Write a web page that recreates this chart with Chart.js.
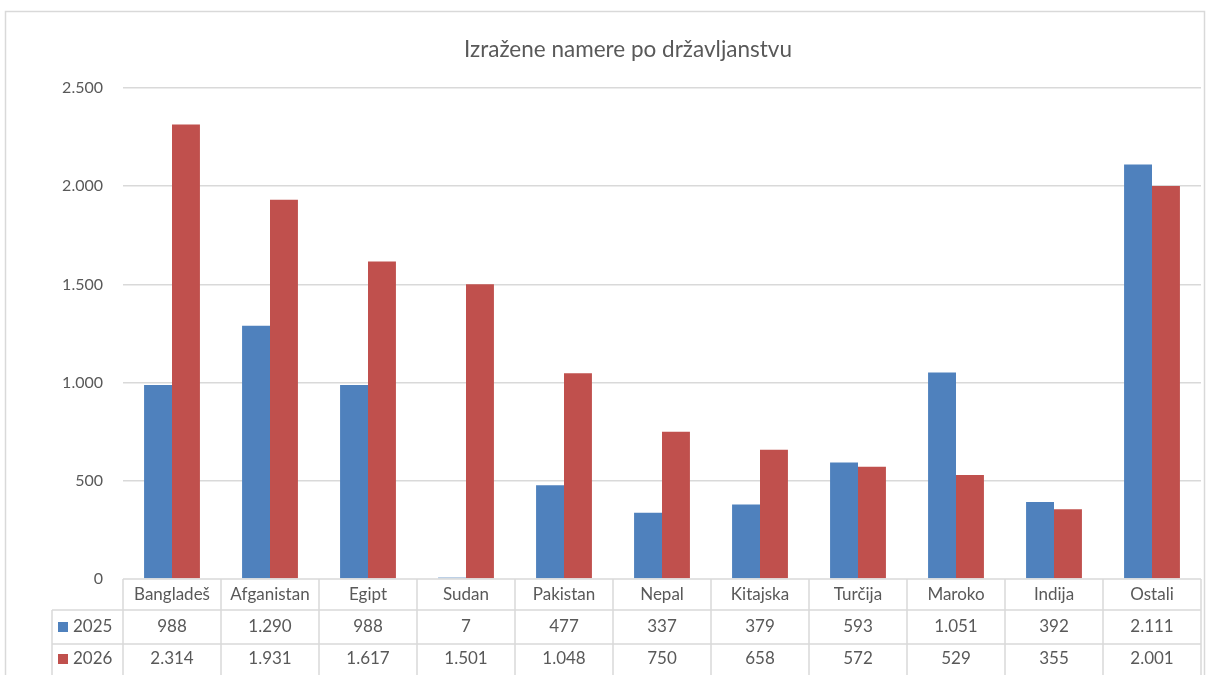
<!DOCTYPE html>
<html>
<head>
<meta charset="utf-8">
<script src="https://cdn.jsdelivr.net/npm/chart.js@4/dist/chart.umd.min.js"></script>
<style>
  body { margin: 0; background: #fff; }
  canvas { display: block; }
</style>
</head>
<body>
<canvas id="chart" width="1209" height="675"></canvas>
<script>
const categories = ['Bangladeš', 'Afganistan', 'Egipt', 'Sudan', 'Pakistan', 'Nepal', 'Kitajska', 'Turčija', 'Maroko', 'Indija', 'Ostali'];
const values2025 = [988, 1290, 988, 7, 477, 337, 379, 593, 1051, 392, 2111];
const values2026 = [2314, 1931, 1617, 1501, 1048, 750, 658, 572, 529, 355, 2001];
const seriesNames = ['2025', '2026'];
const seriesColors = ['#4f81bd', '#c0504d'];

const FONT = 'Lato, "Open Sans", sans-serif';
const TEXT = '#595959';
const LINE = '#d9d9d9';

function fmt(v) {
    return v.toString().replace(/\B(?=(\d{3})+(?!\d))/g, '.');
}

// outer frame + data table under the plot
const tablePlugin = {
    id: 'dataTable',
    beforeDraw(chart) {
        const ctx = chart.ctx;
        ctx.save();
        ctx.strokeStyle = LINE;
        ctx.lineWidth = 1.5;
        ctx.strokeRect(5.5, 11.5, 1199, 700);
        ctx.restore();
    },
    afterDraw(chart) {
        const ctx = chart.ctx;
        const x = chart.scales.x;
        const area = chart.chartArea;
        const n = categories.length;
        const w = x.width / n;
        const top = area.bottom;
        const rows = [top, top + 31, top + 65, top + 99];
        const keyLeft = 52;

        ctx.save();
        ctx.strokeStyle = LINE;
        ctx.lineWidth = 1.5;
        ctx.beginPath();
        ctx.moveTo(x.left, rows[0]); ctx.lineTo(x.right, rows[0]);
        ctx.moveTo(keyLeft, rows[1]); ctx.lineTo(x.right, rows[1]);
        ctx.moveTo(keyLeft, rows[2]); ctx.lineTo(x.right, rows[2]);
        ctx.moveTo(keyLeft, rows[1]); ctx.lineTo(keyLeft, rows[3]);
        for (let i = 0; i <= n; i++) {
            const bx = x.left + i * w;
            ctx.moveTo(bx, rows[0]); ctx.lineTo(bx, rows[3]);
        }
        ctx.stroke();

        ctx.font = '17px ' + FONT;
        ctx.fillStyle = TEXT;
        ctx.textAlign = 'center';
        ctx.textBaseline = 'middle';
        categories.forEach((c, i) => {
            const cx = x.getPixelForValue(i);
            ctx.fillText(c, cx, (rows[0] + rows[1]) / 2);
            ctx.fillText(fmt(values2025[i]), cx, (rows[1] + rows[2]) / 2);
            ctx.fillText(fmt(values2026[i]), cx, (rows[2] + rows[3]) / 2 - 2);
        });

        // legend keys in the first column
        ctx.textAlign = 'left';
        seriesNames.forEach((s, k) => {
            const cy = k === 0 ? (rows[1] + rows[2]) / 2 : (rows[2] + rows[3]) / 2 - 2;
            ctx.fillStyle = seriesColors[k];
            ctx.fillRect(keyLeft + 6, cy - 5, 10, 10);
            ctx.fillStyle = TEXT;
            ctx.fillText(s, keyLeft + 21, cy);
        });
        ctx.restore();
    }
};

new Chart(document.getElementById('chart'), {
    type: 'bar',
    data: {
        labels: categories,
        datasets: [
            { label: seriesNames[0], data: values2025, backgroundColor: seriesColors[0] },
            { label: seriesNames[1], data: values2026, backgroundColor: seriesColors[1] }
        ]
    },
    options: {
        responsive: false,
        animation: false,
        layout: { padding: { left: 55, right: 8, top: 11, bottom: 88 } },
        datasets: { bar: { barPercentage: 1, categoryPercentage: 0.57 } },
        plugins: {
            legend: { display: false },
            tooltip: { enabled: false },
            title: {
                display: true,
                text: 'Izražene namere po državljanstvu',
                color: TEXT,
                font: { family: FONT, size: 22.5, weight: 'normal' },
                padding: { top: 25, bottom: 25 }
            }
        },
        scales: {
            x: {
                ticks: { display: false },
                grid: { display: false },
                border: { display: false }
            },
            y: {
                min: 0,
                max: 2500,
                ticks: {
                    stepSize: 500,
                    padding: 20,
                    color: TEXT,
                    font: { family: FONT, size: 16 },
                    callback: v => fmt(v)
                },
                grid: { color: ctx => ctx.tick.value === 0 ? 'transparent' : LINE, lineWidth: 1.5, drawTicks: false },
                border: { display: false },
                afterFit(scale) { scale.width = 68; }
            }
        }
    },
    plugins: [tablePlugin]
});
</script>
</body>
</html>
